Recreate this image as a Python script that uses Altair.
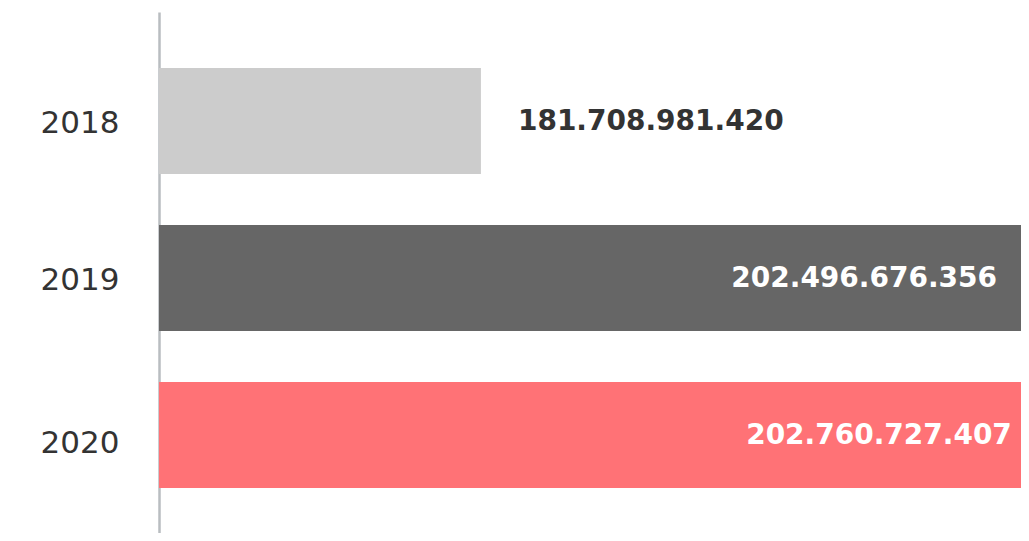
import altair as alt
import pandas as pd

years = ["2018", "2019", "2020"]
values = [181708981420, 202496676356, 202760727407]
labels = ["181.708.981.420", "202.496.676.356", "202.760.727.407"]
bar_colors = ["#cccccc", "#666666", "#ff7276"]
label_colors = ["#333333", "#ffffff", "#ffffff"]

df = pd.DataFrame({"year": years, "value": values, "label": labels,
                   "bar_color": bar_colors, "label_color": label_colors})

FONT = "DejaVu Sans"
xscale = alt.Scale(domain=[169318000000, 202496676356], zero=False, nice=False)
yscale = alt.Scale(domain=years, paddingInner=0.325, paddingOuter=0.3217, align=0.554)

base = alt.Chart(df)

bars = base.mark_bar(clip=True).encode(
    x=alt.X("value:Q", scale=xscale, axis=None),
    y=alt.Y("year:N", scale=yscale, sort=years,
            axis=alt.Axis(title=None, ticks=False, domain=True, domainColor="#b9bdc0",
                          domainWidth=2.5, labelFontSize=31, labelFont=FONT,
                          labelColor="#333333", labelPadding=40, grid=False,
                          labelFontWeight="normal",
                          labelOffset={"condition": {"test": "datum.value == '2020'", "value": 9.5},
                                       "value": 3.5})),
    color=alt.Color("bar_color:N", scale=None),
)

dxs = [37, -24, -16]
aligns = ["left", "right", "right"]
texts = []
for yr, dx, al in zip(years, dxs, aligns):
    texts.append(
        base.transform_filter(alt.datum.year == yr).mark_text(
            align=al, baseline="middle", dx=dx, dy=1.5, fontSize=28, font=FONT,
            fontWeight="bold"
        ).encode(
            x=alt.X("value:Q", scale=xscale),
            y=alt.Y("year:N", scale=yscale, sort=years),
            text="label:N",
            color=alt.Color("label_color:N", scale=None),
        )
    )

chart = alt.layer(bars, *texts).properties(
    width=862, height=521,
    autosize=alt.AutoSizeParams(type="none"),
    padding={"left": 151, "top": 4, "right": 0, "bottom": 0},
).configure_view(stroke=None)

chart.save("out.html", embed_options={"renderer": "svg", "actions": False})
